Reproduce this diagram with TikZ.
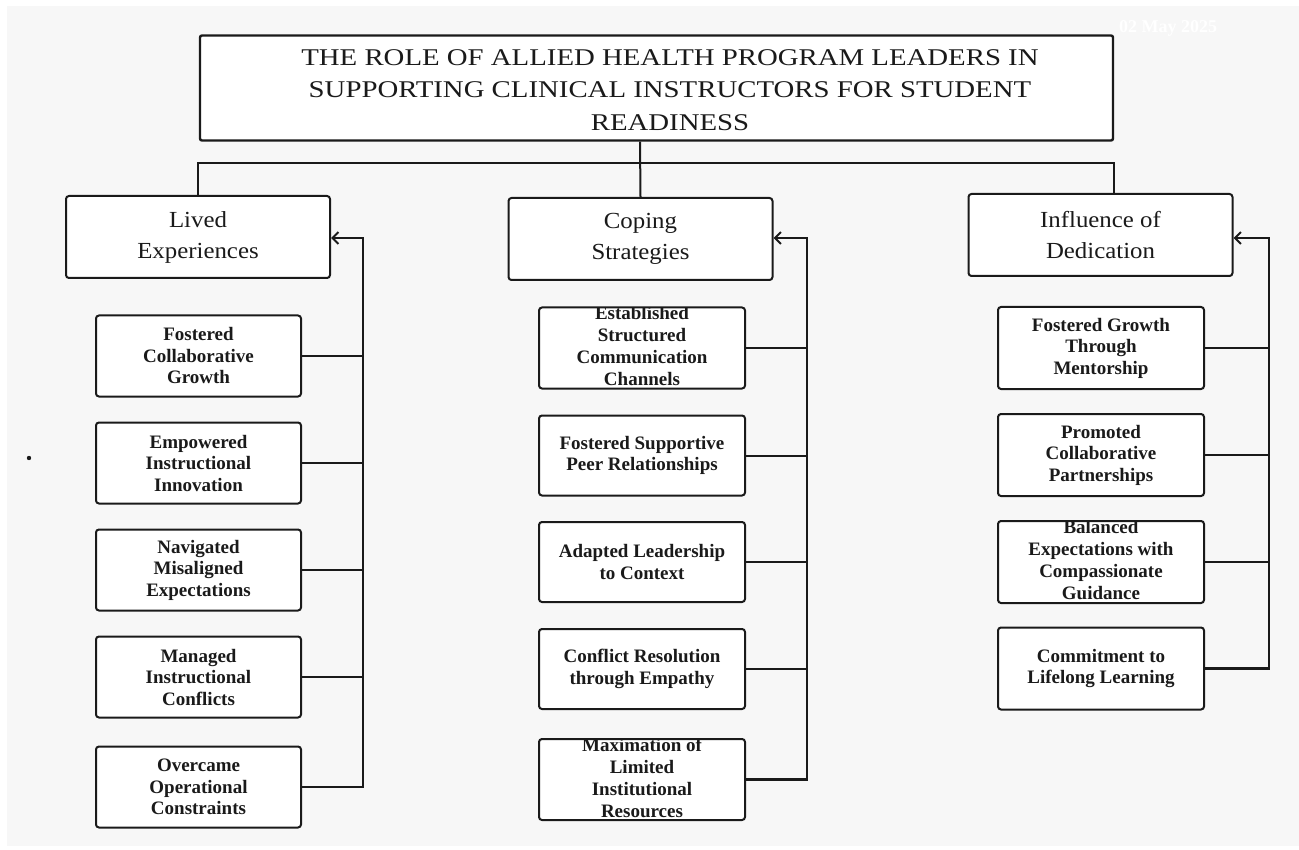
\documentclass[tikz,border=0pt]{standalone}
\usepackage{fontspec}
\setmainfont{Liberation Serif}
\newfontfamily\titlefont[FakeStretch=1.2]{Liberation Serif}
\newfontfamily\catfont[FakeStretch=1.08]{Liberation Serif}
\usetikzlibrary{arrows.meta}
\definecolor{bggray}{HTML}{F7F7F7}
\definecolor{ink}{HTML}{1A1A1A}
\tikzset{
  titlebox/.style={draw=ink, line width=2.4pt, fill=white, rounded corners=2pt, minimum width=913pt, minimum height=105pt, inner sep=0pt},
  catbox/.style={draw=ink, line width=2pt, fill=white, rounded corners=3pt, minimum width=264pt, minimum height=82pt, inner sep=0pt, align=center, text=ink, font=\catfont\fontsize{23}{31}\selectfont},
  leafbox/.style={draw=ink, line width=2pt, fill=white, rounded corners=3pt, minimum width=205pt, minimum height=81pt, inner sep=0pt, align=center, text=ink, font=\fontsize{19}{21.5}\selectfont\bfseries},
  leaftext/.style={align=center, text=ink, inner sep=0pt, font=\fontsize{19}{22}\selectfont\bfseries},
  cliptext/.style={path picture={\node[leaftext] at ([yshift=1.5pt]path picture bounding box.center) {#1};}},
  conn/.style={draw=ink, line width=2pt},
  busline/.style={draw=ink, line width=2.6pt},
  arrowin/.style={draw=ink, line width=2.6pt, -{Straight Barb[length=6pt,width=12pt,line width=2pt]}}
}
\begin{document}
\begin{tikzpicture}[x=1pt,y=-1pt]
\useasboundingbox (0,0) rectangle (1299,850);
\fill[bggray] (7,6) rectangle (1299,846);
\node[text=white, font=\fontsize{18}{20}\selectfont\bfseries] (wm) at (1168,28) {02 May 2025};
\fill[ink] (29,458) circle (2.2pt);

% title
\node[titlebox] (title) at (656.5,88) {};
\node[align=center, text=ink, font=\titlefont\fontsize{24}{32.5}\selectfont] (titletext) at (670,90)
  {THE ROLE OF ALLIED HEALTH PROGRAM LEADERS IN\\SUPPORTING CLINICAL INSTRUCTORS FOR STUDENT\\READINESS};

% categories
\node[catbox] (lived) at (198,237) {Lived\\Experiences};
\node[catbox] (coping) at (640.5,239) {Coping\\Strategies};
\node[catbox] (infl) at (1100.5,235) {Influence of\\Dedication};

\coordinate (hub) at (640,163);
\coordinate (rhub) at (1114,163);
\draw[conn] (hub |- title.south) -- (coping.north);
\draw[busline] (lived.north) -- (lived.north |- hub) -- (rhub) -- (rhub |- infl.north);

% left column
\node[leafbox] (l1) at (198.5,356) {Fostered\\Collaborative\\Growth};
\node[leafbox] (l2) at (198.5,463) {Empowered\\Instructional\\Innovation};
\node[leafbox] (l3) at (198.5,570) {Navigated\\Misaligned\\Expectations};
\node[leafbox] (l4) at (198.5,677) {Managed\\Instructional\\Conflicts};
\node[leafbox] (l5) at (198.5,787) {Overcame\\Operational\\Constraints};
\coordinate (lbus) at (363,238);
\draw[arrowin] (l5.east) -| (lbus) -- (lived.east |- lbus);
\foreach \n in {l1,l2,l3,l4} \draw[conn] (\n.east) -- (\n.east -| lbus);

% middle column
\node[leafbox, minimum width=206pt, minimum height=81pt, cliptext={Established\\Structured\\Communication\\Channels}] (m1) at (642,348) {};
\node[leafbox, minimum width=206pt, minimum height=80pt] (m2) at (642,455.5) {Fostered Supportive\\Peer Relationships};
\node[leafbox, minimum width=206pt, minimum height=80pt] (m3) at (642,562) {Adapted Leadership\\to Context};
\node[leafbox, minimum width=206pt, minimum height=80pt] (m4) at (642,669) {Conflict Resolution\\through Empathy};
\node[leafbox, minimum width=206pt, minimum height=81pt, cliptext={Maximation of\\Limited\\Institutional\\Resources}] (m5) at (642,779.5) {};
\coordinate (mbus) at (807,238);
\draw[arrowin] (m5.east) -| (mbus) -- (coping.east |- mbus);
\foreach \n in {m1,m2,m3,m4} \draw[conn] (\n.east) -- (\n.east -| mbus);

% right column
\node[leafbox, minimum width=206pt, minimum height=82pt] (r1) at (1101,348) {Fostered Growth\\Through\\Mentorship};
\node[leafbox, minimum width=206pt, minimum height=82pt] (r2) at (1101,455) {Promoted\\Collaborative\\Partnerships};
\node[leafbox, minimum width=206pt, minimum height=82pt, cliptext={Balanced\\Expectations with\\Compassionate\\Guidance}] (r3) at (1101,562) {};
\node[leafbox, minimum width=206pt, minimum height=82pt] (r4) at (1101,668.5) {Commitment to\\Lifelong Learning};
\coordinate (rbus) at (1269,238);
\draw[arrowin] (r4.east) -| (rbus) -- (infl.east |- rbus);
\foreach \n in {r1,r2,r3} \draw[conn] (\n.east) -- (\n.east -| rbus);
\end{tikzpicture}
\end{document}
